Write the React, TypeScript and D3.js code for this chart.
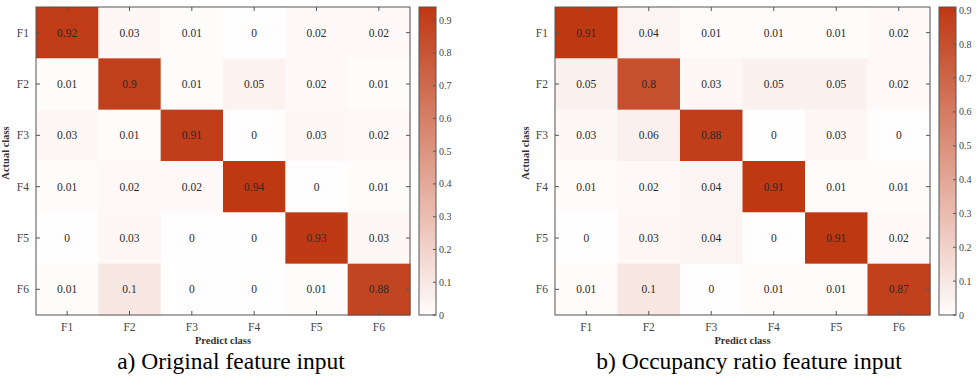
import React from "react";
import * as d3 from "d3";

const classes = ["F1", "F2", "F3", "F4", "F5", "F6"];

// rows = actual class, columns = predicted class
const originalMatrix = [
  [0.92, 0.03, 0.01, 0, 0.02, 0.02],
  [0.01, 0.9, 0.01, 0.05, 0.02, 0.01],
  [0.03, 0.01, 0.91, 0, 0.03, 0.02],
  [0.01, 0.02, 0.02, 0.94, 0, 0.01],
  [0, 0.03, 0, 0, 0.93, 0.03],
  [0.01, 0.1, 0, 0, 0.01, 0.88],
];

const occupancyMatrix = [
  [0.91, 0.04, 0.01, 0.01, 0.01, 0.02],
  [0.05, 0.8, 0.03, 0.05, 0.05, 0.02],
  [0.03, 0.06, 0.88, 0, 0.03, 0],
  [0.01, 0.02, 0.04, 0.91, 0.01, 0.01],
  [0, 0.03, 0.04, 0, 0.91, 0.02],
  [0.01, 0.1, 0, 0.01, 0.01, 0.87],
];

const captions = ["a) Original feature input", "b) Occupancy ratio feature input"];

const serif = { fontFamily: '"Liberation Serif"' };
const LOW = "#fffdfd";
const HIGH = "#be3812";

type PanelProps = {
  id: string;
  data: number[][];
  caption: string;
  x0: number;
  x1: number;
  cbX: number;
  labelX: number;
  captionX: number;
};

function Panel({ id, data, caption, x0, x1, cbX, labelX, captionX }: PanelProps) {
  const top = 7;
  const bottom = 315;
  const cbW = 17;
  const vmax = d3.max(data.flat()) as number;

  const x = d3.scaleBand().domain(classes).range([x0, x1]);
  const y = d3.scaleBand().domain(classes).range([top, bottom]);
  const color = d3.scaleLinear<string>().domain([0, vmax]).range([LOW, HIGH]);
  const cb = d3.scaleLinear().domain([0, vmax]).range([bottom, top]);
  const cbTicks = cb.ticks(10).filter((t) => t <= vmax);

  const tick = 4;
  const midY = (top + bottom) / 2;

  return (
    <g>
      <defs>
        <linearGradient id={`grad-${id}`} x1="0" y1="1" x2="0" y2="0">
          <stop offset="0%" stopColor={LOW} />
          <stop offset="100%" stopColor={HIGH} />
        </linearGradient>
      </defs>

      {/* cells */}
      {data.map((row, i) =>
        row.map((v, j) => (
          <g key={`${i}-${j}`}>
            <rect
              x={x(classes[j])}
              y={y(classes[i])}
              width={x.bandwidth() + 0.5}
              height={y.bandwidth() + 0.5}
              fill={color(v)}
            />
            <text
              x={(x(classes[j]) as number) + x.bandwidth() / 2}
              y={(y(classes[i]) as number) + y.bandwidth() / 2}
              dy="0.35em"
              textAnchor="middle"
              fontSize={11.5}
              fill="#2a2a2a"
              style={serif}
            >
              {v}
            </text>
          </g>
        ))
      )}

      {/* frame */}
      <rect x={x0} y={top} width={x1 - x0} height={bottom - top} fill="none" stroke="#555" strokeWidth={1} />

      {/* ticks */}
      {classes.map((c) => {
        const cx = (x(c) as number) + x.bandwidth() / 2;
        const cy = (y(c) as number) + y.bandwidth() / 2;
        return (
          <g key={c} stroke="#555" strokeWidth={1}>
            <line x1={cx} x2={cx} y1={bottom} y2={bottom - tick} />
            <line x1={cx} x2={cx} y1={top} y2={top + tick} />
            <line x1={x0} x2={x0 + tick} y1={cy} y2={cy} />
            <line x1={x1} x2={x1 - tick} y1={cy} y2={cy} />
          </g>
        );
      })}

      {/* tick labels */}
      {classes.map((c) => (
        <text
          key={`xl-${c}`}
          x={(x(c) as number) + x.bandwidth() / 2}
          y={bottom + 16}
          textAnchor="middle"
          fontSize={11.5}
          fill="#444"
          style={serif}
        >
          {c}
        </text>
      ))}
      {classes.map((c) => (
        <text
          key={`yl-${c}`}
          x={x0 - 7}
          y={(y(c) as number) + y.bandwidth() / 2}
          dy="0.35em"
          textAnchor="end"
          fontSize={11.5}
          fill="#444"
          style={serif}
        >
          {c}
        </text>
      ))}

      {/* axis titles */}
      <text x={(x0 + x1) / 2} y={bottom + 29} textAnchor="middle" fontSize={10.5} fontWeight="bold" fill="#333" style={serif}>
        Predict class
      </text>
      <text
        transform={`translate(${labelX},${midY - 8}) rotate(-90)`}
        textAnchor="middle"
        fontSize={10.5}
        fontWeight="bold"
        fill="#333"
        style={serif}
      >
        Actual class
      </text>

      {/* colorbar */}
      <rect x={cbX} y={top} width={cbW} height={bottom - top} fill={`url(#grad-${id})`} stroke="#555" strokeWidth={1} />
      {cbTicks.map((t) => (
        <g key={`cb-${t}`}>
          <line x1={cbX + cbW} x2={cbX + cbW - 3} y1={cb(t)} y2={cb(t)} stroke="#555" />
          <text x={cbX + cbW + 3} y={cb(t)} dy="0.35em" fontSize={10} fill="#444" style={serif}>
            {String(t)}
          </text>
        </g>
      ))}

      {/* caption */}
      <text x={captionX} y={369} textAnchor="middle" fontSize={23.5} fill="#000" style={serif}>
        {caption}
      </text>
    </g>
  );
}

export default function App() {
  return (
    <svg width={976} height={376} style={{ position: "absolute", left: 0, top: 0, background: "#fff" }}>
      <rect width={976} height={376} fill="#fff" />
      <Panel id="a" data={originalMatrix} caption={captions[0]} x0={36} x1={410} cbX={419} labelX={9} captionX={231} />
      <Panel id="b" data={occupancyMatrix} caption={captions[1]} x0={555} x1={930} cbX={939} labelX={529} captionX={749} />
    </svg>
  );
}
